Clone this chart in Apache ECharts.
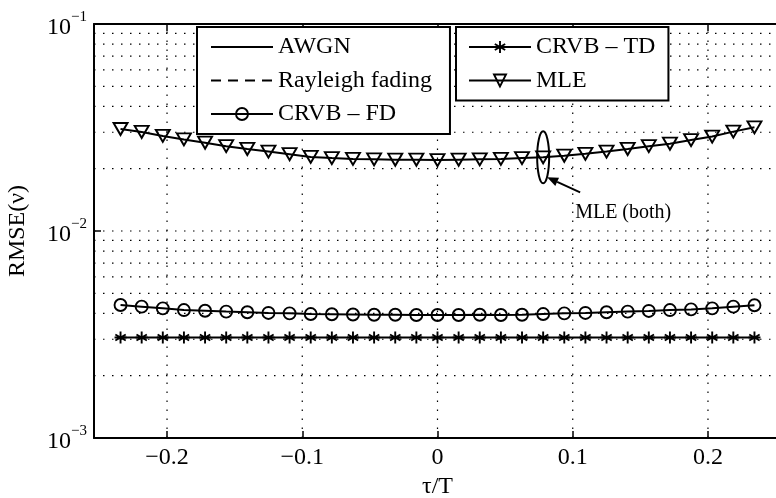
<!DOCTYPE html>
<html><head><meta charset="utf-8">
<script src="https://cdn.jsdelivr.net/npm/echarts@6/dist/echarts.min.js"></script>
<style>html,body{margin:0;padding:0;background:#fff}#c{width:776px;height:498px}</style>
</head><body><div id="c"></div>
<script>
// ---- data ----
const tauT = [-0.234375, -0.21875, -0.203125, -0.1875, -0.171875, -0.15625, -0.140625, -0.125,
  -0.109375, -0.09375, -0.078125, -0.0625, -0.046875, -0.03125, -0.015625, 0,
  0.015625, 0.03125, 0.046875, 0.0625, 0.078125, 0.09375, 0.109375, 0.125,
  0.140625, 0.15625, 0.171875, 0.1875, 0.203125, 0.21875, 0.234375];
const crvbFD = [0.00439, 0.00431, 0.00423, 0.00415, 0.00412, 0.00408, 0.00405, 0.00402, 0.00400, 0.00397,
  0.00396, 0.00395, 0.00394, 0.00394, 0.00393, 0.00393, 0.00393, 0.00394,
  0.00393, 0.00394, 0.00397, 0.00400, 0.00402, 0.00405, 0.00408, 0.00411, 0.00415, 0.00418, 0.00423, 0.00431, 0.00438];
const crvbTD = [0.00306, 0.00306, 0.00306, 0.00306, 0.00306, 0.00306, 0.00306, 0.00306, 0.00306, 0.00306,
  0.00306, 0.00306, 0.00306, 0.00306, 0.00306, 0.00306, 0.00306, 0.00306, 0.00306, 0.00306,
  0.00306, 0.00306, 0.00306, 0.00306, 0.00306, 0.00306, 0.00306, 0.00306, 0.00306, 0.00306, 0.00306];
const mle = [0.0311, 0.0301, 0.0288, 0.0277, 0.0267, 0.0257, 0.0249, 0.0242, 0.0235, 0.0228,
  0.0225, 0.0223, 0.0222, 0.0221, 0.0221, 0.0220, 0.0221, 0.0222, 0.0223, 0.0225, 0.0227,
  0.0231, 0.0236, 0.0242, 0.0249, 0.0257, 0.0264, 0.0275, 0.0286, 0.0302, 0.0317];
const xTicks = [-0.2, -0.1, 0, 0.1, 0.2];
const yGridValues = [0.002, 0.003, 0.004, 0.005, 0.006, 0.007, 0.008, 0.009, 0.01,
  0.02, 0.03, 0.04, 0.05, 0.06, 0.07, 0.08, 0.09];
const xRange = [-0.254, 0.254];
const yRange = [0.001, 0.1];
const legendGroup1 = ['AWGN', 'Rayleigh fading', 'CRVB – FD'];
const legendGroup2 = ['CRVB – TD', 'MLE'];
const annotationText = 'MLE (both)';
const annotIndex = 20;

// ---- chart ----
const FONT = '"Liberation Serif","Times New Roman",serif';
const chart = echarts.init(document.getElementById('c'), null, {renderer: 'canvas'});
const pairs = ys => tauT.map((x, i) => [x, ys[i]]);
const gridLine = {color: '#000', width: 1.2, type: [1.5, 7.5]};
const starPath = 'path://M0,-10L0,10M-8.66,-5L8.66,5M-8.66,5L8.66,-5M-10,0L10,0';
const markerStyle = {color: 'rgba(0,0,0,0)', borderColor: '#000', borderWidth: 1.9};
const lineSt = {color: '#000', width: 2};
// grid line data (broken line segments, one per grid value)
const hGridData = [];
yGridValues.forEach(v => { hGridData.push([xRange[0], v], [xRange[1], v], '-'); });
const vGridData = [];
xTicks.forEach(v => { vGridData.push([v, yRange[0]], [v, yRange[1]], '-'); });

const legendCommon = {
  orient: 'vertical', itemWidth: 62, itemHeight: 15, itemGap: 9.5,
  borderColor: '#000', borderWidth: 2, backgroundColor: '#fff', selectedMode: false,
  textStyle: {fontSize: 24, fontFamily: FONT, color: '#000', lineHeight: 24}
};
const fmtX = v => (v < 0 ? '\u2212' + Math.abs(v) : String(v));
const xAxisCommon = {
  type: 'value', min: xRange[0], max: xRange[1],
  axisLine: {show: true, onZero: false, lineStyle: {color: '#000', width: 2}},
  axisTick: {show: true, inside: true, length: 7, customValues: xTicks, lineStyle: {color: '#000', width: 1.5}},
  splitLine: {show: false}
};

chart.setOption({
  animation: false,
  backgroundColor: '#fff',
  grid: {left: 94, top: 24, right: -5, bottom: 60, containLabel: false, outerBoundsMode: 'none'},
  xAxis: [
    Object.assign({}, xAxisCommon, {
      position: 'bottom',
      axisLabel: {customValues: xTicks, formatter: fmtX, fontSize: 24, fontFamily: FONT, color: '#000', margin: 8},
      name: 'τ/T', nameLocation: 'middle', nameGap: 33,
      nameTextStyle: {fontSize: 24, fontFamily: FONT, color: '#000'}
    }),
    Object.assign({}, xAxisCommon, {position: 'top', axisLabel: {show: false}})
  ],
  yAxis: {
    type: 'log', logBase: 10, min: yRange[0], max: yRange[1], position: 'left',
    axisLine: {show: true, onZero: false, lineStyle: {color: '#000', width: 2}},
    axisTick: {show: true, inside: true, length: 7, lineStyle: {color: '#000', width: 1.5}},
    splitLine: {show: false},
    minorTick: {show: false},
    axisLabel: {
      margin: 7,
      padding: [7, 0, 0, 0],
      formatter: v => '{b|10}{s|\u2212' + Math.round(-Math.log10(v)) + '}',
      rich: {
        b: {fontSize: 24, fontFamily: FONT, color: '#000', lineHeight: 36, verticalAlign: 'middle'},
        s: {fontSize: 15, fontFamily: FONT, color: '#000', lineHeight: 15, verticalAlign: 'top'}
      }
    },
    name: 'RMSE(ν)', nameLocation: 'middle', nameGap: 64,
    nameTextStyle: {fontSize: 24, fontFamily: FONT, color: '#000'}
  },
  legend: [
    Object.assign({}, legendCommon, {
      left: 197, top: 27, padding: [8, 18, 8, 13],
      data: [
        {name: legendGroup1[0], itemStyle: {opacity: 0}, lineStyle: {color: '#000', width: 2, type: 'solid'}},
        {name: legendGroup1[1], itemStyle: {opacity: 0}, lineStyle: {color: '#000', width: 2, type: [10, 7]}},
        {name: legendGroup1[2], itemStyle: {color: 'rgba(0,0,0,0)', borderColor: '#000', borderWidth: 1.9}}
      ]
    }),
    Object.assign({}, legendCommon, {
      left: 456, top: 27, padding: [8, 13, 8, 12],
      data: [
        {name: legendGroup2[0], itemStyle: {color: '#000', borderColor: '#000', borderWidth: 1.9}},
        {name: legendGroup2[1], itemStyle: {color: 'rgba(0,0,0,0)', borderColor: '#000', borderWidth: 1.9}}
      ]
    })
  ],
  series: [
    {name: 'hgrid', type: 'line', data: hGridData, symbol: 'none', silent: true, z: 1,
     connectNulls: false, lineStyle: gridLine},
    {name: 'vgrid', type: 'line', data: vGridData, symbol: 'none', silent: true, z: 1,
     connectNulls: false, lineStyle: gridLine},
    {name: legendGroup1[0], type: 'line', data: [], symbol: 'circle', showSymbol: false,
     lineStyle: {color: '#000', width: 2, type: 'solid'}, itemStyle: {color: '#000'}},
    {name: legendGroup1[1], type: 'line', data: [], symbol: 'circle', showSymbol: false,
     lineStyle: {color: '#000', width: 2, type: [10, 7]}, itemStyle: {color: '#000'}},
    {name: legendGroup2[0], type: 'line', data: pairs(crvbTD), symbol: starPath, symbolSize: 12,
     lineStyle: lineSt, itemStyle: {color: '#000', borderColor: '#000', borderWidth: 1.9}, z: 3},
    {name: legendGroup1[2], type: 'line', data: pairs(crvbFD), symbol: 'circle', symbolSize: 12,
     lineStyle: lineSt, itemStyle: markerStyle, z: 3},
    {name: legendGroup2[1], type: 'line', data: pairs(mle), symbol: 'triangle', symbolRotate: 180,
     symbolSize: [14, 12], lineStyle: lineSt, itemStyle: markerStyle, z: 3}
  ]
});

// annotation: ellipse around the MLE curve, arrow and label
const p = chart.convertToPixel({xAxisIndex: 0, yAxisIndex: 0}, [tauT[annotIndex], mle[annotIndex]]);
const tip = [p[0] + 4, p[1] + 20];
const tail = [p[0] + 37, p[1] + 35];
const ang = Math.atan2(tip[1] - tail[1], tip[0] - tail[0]);
const hl = 11, hw = 4.5;
const bx = tip[0] - hl * Math.cos(ang), by = tip[1] - hl * Math.sin(ang);
const head = [tip, [bx + hw * Math.sin(ang), by - hw * Math.cos(ang)], [bx - hw * Math.sin(ang), by + hw * Math.cos(ang)]];
chart.setOption({
  graphic: [
    {type: 'ellipse', z: 10, shape: {cx: p[0], cy: p[1], rx: 6, ry: 26}, style: {fill: 'none', stroke: '#000', lineWidth: 2}},
    {type: 'line', z: 10, shape: {x1: tail[0], y1: tail[1], x2: bx, y2: by}, style: {stroke: '#000', lineWidth: 2}},
    {type: 'polygon', z: 10, shape: {points: head}, style: {fill: '#000'}},
    {type: 'text', z: 10, x: p[0] + 32, y: p[1] + 55,
     style: {text: annotationText, fontSize: 20, fontFamily: FONT, fill: '#000', align: 'left', verticalAlign: 'middle'}}
  ]
});
</script></body></html>
